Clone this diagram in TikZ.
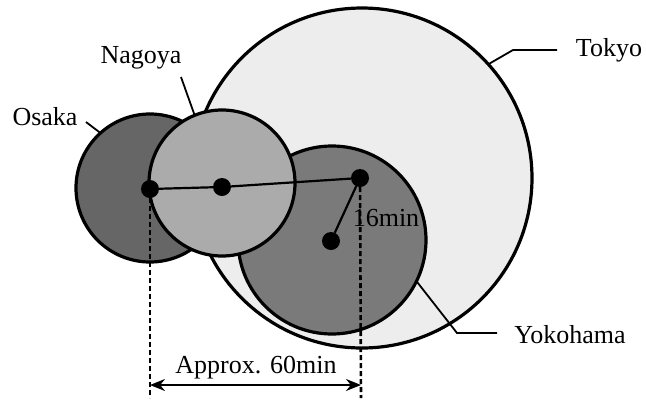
\documentclass[tikz,border=0pt]{standalone}
\usepackage{fontspec}
\setmainfont{Liberation Serif}
\usetikzlibrary{arrows.meta}
\begin{document}
\begin{tikzpicture}[x=1pt,y=-1pt,
  city/.style={circle,draw=black,line width=3.2pt,inner sep=0pt,outer sep=0pt},
  dot/.style={circle,fill=black,inner sep=0pt,outer sep=0pt,minimum size=18pt},
  lab/.style={font=\fontsize{26}{28}\selectfont,inner sep=1pt},
  lead/.style={line width=1.8pt},
  link/.style={line width=2.2pt},
  dim/.style={line width=2.6pt,dash pattern=on 5pt off 3pt}]
\useasboundingbox (0,0) rectangle (646,400);
\node[city,fill=black!7,minimum size=340pt] (tokyo) at (362,178) {};
\node[city,fill=black!52,minimum size=188pt] (yoko) at (332,240) {};
\node[city,fill=black!60,minimum size=148pt] (osaka) at (150,188) {};
\node[city,fill=black!33,minimum size=146pt] (nagoya) at (222,183) {};
\node[dot] (do) at (150,189) {};
\node[dot] (dn) at (222,187) {};
\node[dot] (dt) at (360,178) {};
\node[dot] (dy) at (331,241) {};
\draw[link] (do) -- (dn) -- (dt) -- (dy);
\coordinate (bo) at (150,398);
\coordinate (bt) at (361,398);
\draw[dim] (do) -- (bo);
\draw[dim] (dt) -- (bt);
\coordinate (ao) at (150,385);
\coordinate (at2) at (361,385);
\draw[line width=2pt,{Stealth[length=15pt,width=12pt]}-{Stealth[length=15pt,width=12pt]}] (ao) -- (at2);
\node[lab] (appr) at (256,368) {Approx. 60min};
\node[lab] (m16) at (386,218) {16min};
\node[lab] (lo) at (45,117) {Osaka};
\node[lab] (ln) at (141,58) {Nagoya};
\node[lab] (lt) at (609,50) {Tokyo};
\node[lab] (ly) at (570,335) {Yokohama};
\coordinate (to0) at (557,50);
\coordinate (to1) at (513,50);
\coordinate (yo0) at (497,333);
\coordinate (yo1) at (457,333);
\coordinate (os0) at (86,122);
\coordinate (na0) at (181,77);
\draw[lead] (os0) -- (osaka.132);
\draw[lead] (na0) -- (nagoya.112);
\draw[lead] (to0) -- (to1) -- (tokyo.42);
\draw[lead] (yo0) -- (yo1) -- (yoko.-26);
\end{tikzpicture}
\end{document}
